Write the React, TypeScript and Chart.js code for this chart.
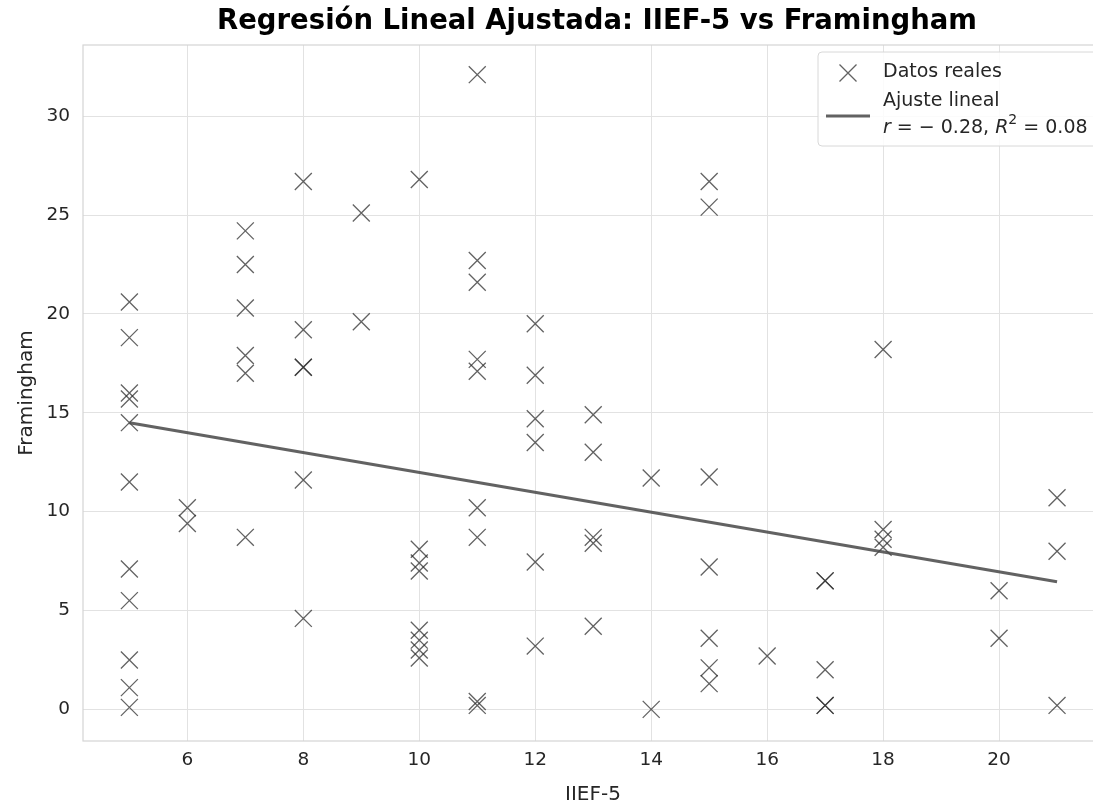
import React, { useEffect, useRef } from "react";
import { Chart, registerables } from "chart.js";
Chart.register(...registerables);

const iief = [
  5, 5, 5, 5, 5, 5, 5, 5, 5, 5, 5,
  6, 6,
  7, 7, 7, 7, 7, 7,
  8, 8, 8, 8, 8, 8,
  9, 9,
  10, 10, 10, 10, 10, 10, 10, 10,
  11, 11, 11, 11, 11, 11, 11, 11, 11,
  12, 12, 12, 12, 12, 12,
  13, 13, 13, 13, 13,
  14, 14,
  15, 15, 15, 15, 15, 15, 15,
  16,
  17, 17, 17, 17, 17,
  18, 18, 18, 18,
  20, 20,
  21, 21, 21,
];
const framingham = [
  20.6, 18.8, 16.0, 15.7, 14.5, 11.5, 7.1, 5.5, 2.5, 1.1, 0.1,
  10.2, 9.4,
  24.2, 22.5, 20.3, 17.9, 17.0, 8.7,
  26.7, 19.2, 17.3, 17.3, 11.6, 4.6,
  25.1, 19.6,
  26.8, 8.1, 7.4, 7.0, 4.0, 3.5, 3.0, 2.6,
  32.1, 22.7, 21.6, 17.7, 17.1, 10.2, 8.7, 0.4, 0.2,
  19.5, 16.9, 14.7, 13.5, 7.45, 3.2,
  14.9, 13.0, 8.7, 8.4, 4.2,
  11.7, 0.0,
  26.7, 25.4, 11.75, 7.2, 3.6, 2.1, 1.3,
  2.7,
  6.5, 6.5, 2.0, 0.2, 0.2,
  18.2, 9.1, 8.6, 8.2,
  6.0, 3.6,
  10.7, 8.0, 0.2,
];
const fitX = [5, 21];
const fitY = [14.5, 6.45];
const xTicks = [6, 8, 10, 12, 14, 16, 18, 20];
const yTicks = [0, 5, 10, 15, 20, 25, 30];
const titleText = "Regresión Lineal Ajustada: IIEF-5 vs Framingham";
const xLabel = "IIEF-5";
const yLabel = "Framingham";
const legendLabels = ["Datos reales", "Ajuste lineal"];
const rText = "-0.28";
const r2Text = "0.08";

const FONT = "'DejaVu Sans', sans-serif";
const MARKER_COLOR = "rgba(45,45,45,0.75)";
const LINE_COLOR = "rgba(70,70,70,0.85)";

const decor = {
  id: "decor",
  beforeDatasetsDraw(chart: any) {
    const { ctx, chartArea: a } = chart;
    ctx.save();
    ctx.strokeStyle = "#d4d4d4";
    ctx.lineWidth = 1.2;
    ctx.strokeRect(a.left, a.top, a.right - a.left + 20, a.bottom - a.top);
    ctx.restore();
  },
  afterDraw(chart: any) {
    const { ctx, chartArea: a } = chart;
    ctx.save();
    // title
    ctx.fillStyle = "#000";
    ctx.font = `bold 27.5px ${FONT}`;
    ctx.textAlign = "center";
    ctx.textBaseline = "middle";
    ctx.fillText(titleText, 597, 22);
    // axis labels
    ctx.fillStyle = "#262626";
    ctx.font = `20px ${FONT}`;
    ctx.fillText(xLabel, 593, 795);
    ctx.save();
    ctx.translate(27, (a.top + a.bottom) / 2);
    ctx.rotate(-Math.PI / 2);
    ctx.fillText(yLabel, 0, 0);
    ctx.restore();

    // legend
    const bx = 818, by = 52, bw = 290, bh = 94;
    ctx.fillStyle = "rgba(255,255,255,0.85)";
    ctx.strokeStyle = "#d8d8d8";
    ctx.lineWidth = 1;
    ctx.beginPath();
    ctx.roundRect(bx, by, bw, bh, 4);
    ctx.fill();
    ctx.stroke();
    // marker
    ctx.strokeStyle = MARKER_COLOR;
    ctx.lineWidth = 1.3;
    const mx = 848, my = 73, d = 8.5;
    ctx.beginPath();
    ctx.moveTo(mx - d, my - d);
    ctx.lineTo(mx + d, my + d);
    ctx.moveTo(mx - d, my + d);
    ctx.lineTo(mx + d, my - d);
    ctx.stroke();
    // line sample
    ctx.strokeStyle = LINE_COLOR;
    ctx.lineWidth = 3;
    ctx.beginPath();
    ctx.moveTo(826, 116);
    ctx.lineTo(870, 116);
    ctx.stroke();
    // texts
    ctx.fillStyle = "#262626";
    ctx.textAlign = "left";
    ctx.textBaseline = "middle";
    ctx.font = `19px ${FONT}`;
    ctx.fillText(legendLabels[0], 883, 72);
    ctx.fillText(legendLabels[1], 883, 101);
    let x = 883;
    const y = 128;
    const seg = (t: string, font: string, dy = 0) => {
      ctx.font = font;
      ctx.fillText(t, x, y + dy);
      x += ctx.measureText(t).width;
    };
    const normal = `19px ${FONT}`;
    const ital = `oblique 19px ${FONT}`;
    seg("r", ital);
    seg(" = \u2212 " + rText.replace("-", ""), normal);
    seg(", ", normal);
    seg("R", ital);
    seg("2", `14px ${FONT}`, -8);
    seg(" = " + r2Text, normal);
    ctx.restore();
  },
};

export default function App() {
  const ref = useRef<HTMLCanvasElement>(null);
  useEffect(() => {
    document.body.style.margin = "0";
    const points = iief.map((v, i) => ({ x: v, y: framingham[i] }));
    const fit = fitX.map((v, i) => ({ x: v, y: fitY[i] }));
    const tickFont = { family: FONT, size: 18.5 };
    const chart = new Chart(ref.current!, {
      type: "scatter",
      data: {
        datasets: [
          {
            label: legendLabels[0],
            data: points,
            pointStyle: "crossRot",
            pointRadius: 12,
            pointBorderWidth: 1.3,
            borderColor: MARKER_COLOR,
            backgroundColor: MARKER_COLOR,
            order: 2,
          },
          {
            type: "line",
            label: legendLabels[1],
            data: fit,
            borderColor: LINE_COLOR,
            borderWidth: 3,
            pointRadius: 0,
            fill: false,
            order: 1,
          } as any,
        ],
      },
      options: {
        animation: false,
        responsive: false,
        layout: { autoPadding: false, padding: { top: 45, right: 0, left: 0, bottom: 0 } },
        plugins: { legend: { display: false }, title: { display: false }, tooltip: { enabled: false } },
        scales: {
          x: {
            type: "linear",
            min: 4.2,
            max: 21.62,
            afterBuildTicks: (s: any) => {
              s.ticks = xTicks.map((v) => ({ value: v }));
            },
            afterFit: (s: any) => {
              s.height = 69;
              s.paddingLeft = 0;
              s.paddingRight = 0;
            },
            grid: { color: "#e2e2e2", lineWidth: 1, drawTicks: false },
            border: { display: false },
            ticks: { font: tickFont, color: "#262626", padding: 8, maxRotation: 0 },
          },
          y: {
            type: "linear",
            min: -1.6,
            max: 33.6,
            afterBuildTicks: (s: any) => {
              s.ticks = yTicks.map((v) => ({ value: v }));
            },
            afterFit: (s: any) => {
              s.width = 83;
              s.paddingTop = 0;
              s.paddingBottom = 0;
            },
            grid: { color: "#e2e2e2", lineWidth: 1, drawTicks: false },
            border: { display: false },
            ticks: { font: tickFont, color: "#262626", padding: 13 },
          },
        },
      },
      plugins: [decor],
    });
    return () => chart.destroy();
  }, []);
  return (
    <div style={{ position: "absolute", left: 0, top: 0, width: 1093, height: 810, background: "#fff" }}>
      <canvas ref={ref} width={1093} height={810} />
    </div>
  );
}
